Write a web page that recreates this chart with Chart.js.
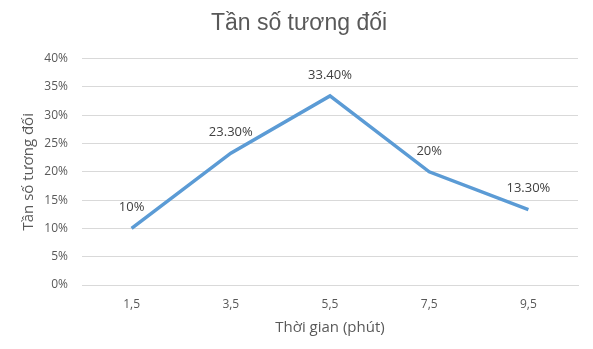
<!DOCTYPE html>
<html>
<head>
<meta charset="utf-8">
<script src="https://cdn.jsdelivr.net/npm/chart.js@4"></script>
<style>
  html, body { margin: 0; padding: 0; background: #fff; }
  #wrap { width: 593px; height: 349px; }
</style>
</head>
<body>
<div id="wrap"><canvas id="myChart" width="593" height="349"></canvas></div>
<script>
// DATA
const categories = ['1,5', '3,5', '5,5', '7,5', '9,5'];
const values = [10, 23.3, 33.4, 20, 13.3];
const valueLabels = ['10%', '23.30%', '33.40%', '20%', '13.30%'];
const yTicks = [0, 5, 10, 15, 20, 25, 30, 35, 40];

// labels above each point
const pointLabels = {
    id: 'pointLabels',
    afterDatasetsDraw(chart) {
        const ctx = chart.ctx;
        const meta = chart.getDatasetMeta(0);
        ctx.save();
        ctx.font = '13px "Open Sans", sans-serif';
        ctx.fillStyle = '#404040';
        ctx.textAlign = 'center';
        ctx.textBaseline = 'middle';
        meta.data.forEach(function(pt, i) {
            ctx.fillText(valueLabels[i], pt.x, pt.y - 21);
        });
        ctx.restore();
    }
};

const ctx = document.getElementById('myChart').getContext('2d');
new Chart(ctx, {
    type: 'line',
    data: {
        labels: categories,
        datasets: [{
            data: values,
            borderColor: '#5b9bd5',
            borderWidth: 3.5,
            pointRadius: 0,
            tension: 0,
            fill: false
        }]
    },
    options: {
        responsive: false,
        animation: false,
        layout: { padding: { left: 20, right: 15, top: 0, bottom: 12 } },
        plugins: {
            legend: { display: false },
            tooltip: { enabled: false },
            title: {
                display: true,
                text: 'Tần số tương đối',
                color: '#595959',
                font: { family: '"Liberation Sans", Arial, sans-serif', size: 23, weight: 'normal' },
                padding: { top: 10, bottom: 21 }
            }
        },
        scales: {
            x: {
                offset: true,
                grid: { display: false, drawTicks: false, offset: true },
                border: { display: true, color: '#d9d9d9', width: 1 },
                ticks: {
                    color: '#595959',
                    font: { family: '"Open Sans", sans-serif', size: 12 },
                    padding: 12
                },
                title: {
                    display: true,
                    text: 'Thời gian (phút)',
                    color: '#595959',
                    font: { family: '"Open Sans", sans-serif', size: 15 },
                    padding: { top: 2, bottom: 0 }
                },
                afterFit: function(scale) { scale.height = 52; }
            },
            y: {
                min: 0,
                max: 40,
                afterBuildTicks: function(scale) {
                    scale.ticks = yTicks.map(function(v) { return { value: v }; });
                },
                grid: { color: '#d9d9d9', drawTicks: false },
                border: { display: false },
                ticks: {
                    color: '#595959',
                    font: { family: '"Open Sans", sans-serif', size: 12 },
                    padding: 14,
                    callback: function(v) { return v + '%'; }
                },
                title: {
                    display: true,
                    text: 'Tần số tương đối',
                    color: '#595959',
                    font: { family: '"Open Sans", sans-serif', size: 15 },
                    padding: { top: 0, bottom: 0 }
                },
                afterFit: function(scale) { scale.width = 62; }
            }
        }
    },
    plugins: [pointLabels]
});
</script>
</body>
</html>
